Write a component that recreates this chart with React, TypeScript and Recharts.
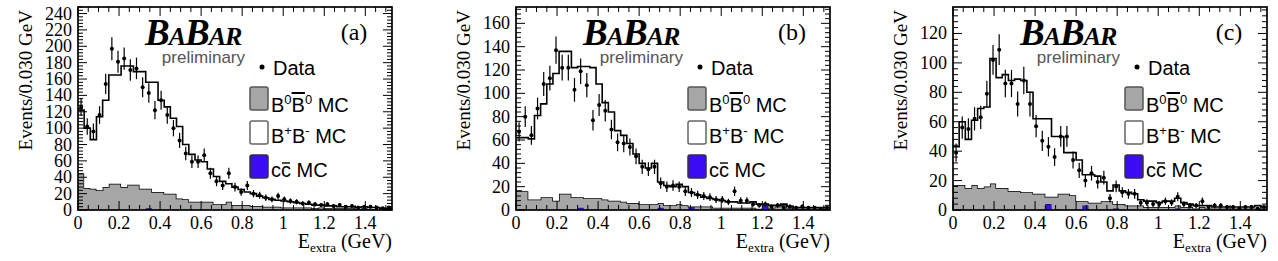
import React from 'react';
import { ComposedChart, Area, Scatter, ErrorBar, XAxis, YAxis } from 'recharts';

// 51 bins of 0.030 GeV from 0 to 1.53 GeV
const BIN_WIDTH = 0.03;
const X_MAX = 1.53;
const X_MAJOR = [0, 0.2, 0.4, 0.6, 0.8, 1, 1.2, 1.4];

// ---- panel (a) ----
const ccMcA = [0, 0, 0, 0, 0, 0, 0, 0, 0, 0, 0, 2, 0, 0, 0, 0, 0, 0, 0, 0, 0, 0, 0, 0, 0, 0, 0, 0, 0, 0, 0, 1, 0, 0, 0, 0, 0, 0, 0, 0, 0, 0, 0, 0, 0, 0, 2, 0, 0, 0, 0];
const b0McA = [45, 27, 26, 24, 28, 32, 32, 28, 31, 31, 26, 24, 22, 22, 20, 20, 14, 13, 10, 10, 10, 10, 7, 7, 10, 6, 6, 6, 5, 5, 4, 3, 4, 3, 3, 3, 3, 3, 2, 3, 2, 2, 2, 2, 2, 1, 0, 1, 1, 1, 1];
const bpMcA = [77, 73, 60, 90, 106, 133, 133, 148, 145, 138, 143, 130, 134, 112, 106, 92, 88, 67, 58, 51, 49, 40, 34, 28, 22, 22, 19, 16, 15, 12, 11, 9, 8, 8, 7, 6, 5, 4, 4, 3, 3, 3, 2, 2, 2, 2, 2, 2, 2, 1, 1];
const dataA = [126, 102, 96, 116, 154, 197, 181, 185, 171, 173, 150, 143, 122, 134, 116, 100, 85, 69, 59, 59, 67, 45, 35, 30, 45, 28, 22, 30, 20, 18, 15, 13, 17, 13, 11, 10, 8, 9, 7, 6, 7, 5, 6, 4, 5, 3, 4, 4, 3, 2, 3];
const yTicksA = [0, 20, 40, 60, 80, 100, 120, 140, 160, 180, 200, 220, 240];

// ---- panel (b) ----
const ccMcB = [0, 0, 0, 0, 0, 0, 0, 0, 0, 0, 2, 0, 0, 0, 0, 0, 0, 0, 0, 0, 0, 0, 0, 2, 0, 0, 0, 0, 3, 0, 0, 0, 0, 0, 0, 0, 0, 0, 0, 0, 4, 0, 0, 0, 0, 0, 0, 0, 0, 0, 0];
const b0McB = [17, 16, 9, 9, 11, 11, 8, 14, 14, 11, 9, 10, 10, 10, 9, 8, 8, 7, 6, 6, 5, 5, 5, 4, 4, 4, 5, 4, 0, 3, 3, 3, 2, 2, 2, 2, 2, 2, 2, 1, 0, 2, 3, 4, 2, 1, 1, 1, 1, 1, 1];
const bpMcB = [45, 46, 52, 72, 80, 97, 109, 122, 122, 111, 112, 113, 112, 98, 83, 76, 60, 57, 51, 42, 35, 31, 35, 18, 17, 16, 17, 16, 12, 10, 8, 7, 7, 6, 5, 5, 4, 4, 5, 4, 1, 2, 1, 1, 1, 1, 1, 1, 1, 1, 1];
const dataB = [67, 80, 64, 87, 108, 113, 137, 122, 122, 103, 119, 107, 77, 90, 85, 69, 58, 57, 54, 46, 37, 35, 37, 23, 20, 21, 20, 16, 15, 13, 12, 11, 9, 9, 7, 16, 8, 8, 5, 4, 5, 3, 4, 2, 3, 2, 3, 2, 2, 1, 2];
const yTicksB = [0, 20, 40, 60, 80, 100, 120, 140, 160];

// ---- panel (c) ----
const ccMcC = [0, 0, 0, 0, 0, 0, 0, 0, 0, 0, 0, 0, 0, 0, 0, 4, 0, 0, 0, 0, 0, 3, 0, 0, 0, 0, 1, 0, 0, 0, 0, 0, 0, 0, 0, 0, 1, 0, 0, 0, 0, 0, 0, 0, 0, 0, 0, 0, 0, 0, 0];
const b0McC = [17, 17, 15, 17, 15, 16, 18, 15, 15, 13, 13, 12, 12, 11, 11, 5, 9, 11, 11, 10, 6, 3, 5, 5, 6, 6, 3, 4, 3, 3, 3, 2, 2, 2, 2, 2, 2, 2, 2, 1, 2, 1, 1, 1, 1, 1, 1, 1, 1, 1, 1];
const bpMcC = [26, 43, 33, 44, 54, 54, 85, 75, 77, 75, 76, 76, 68, 51, 51, 53, 41, 39, 28, 29, 28, 18, 19, 18, 13, 7, 13, 9, 9, 8, 4, 4, 4, 3, 4, 4, 5, 3, 2, 2, 1, 2, 1, 1, 1, 1, 1, 1, 1, 2, 1];
const dataC = [39, 56, 55, 62, 63, 79, 102, 109, 86, 86, 72, 88, 72, 57, 47, 43, 36, 50, 50, 34, 27, 20, 25, 19, 22, 8, 16, 12, 11, 11, 5, 5, 4, 4, 6, 5, 9, 4, 3, 3, 6, 2, 3, 3, 2, 2, 1, 2, 2, 1, 2];
const yTicksC = [0, 20, 40, 60, 80, 100, 120];

const SERIF = '"Liberation Serif", "Times New Roman", serif';
const SANS = '"Liberation Sans", Arial, sans-serif';
const GRAY = '#a6a6a6';
const BLUE = '#3c0cf5';

// layout of one panel
const PLOT_LEFT = 78;
const PLOT_TOP = 7;
const PLOT_W = 314;
const PLOT_H = 203;
const CHART_W = PLOT_LEFT + PLOT_W + 10;
const CHART_H = 261;
const X_AXIS_H = 40;
const TICK_GAP = 6;

const xTicks = Array.from({ length: 31 }, (_, i) => Number((i * 0.05).toFixed(2)));

// major every 20 events, minor every 4
function allYTicks(yMax: number) {
  const out: number[] = [];
  for (let v = 0; v <= yMax; v += 4) out.push(v);
  return out;
}

// bin edges for step drawing; the last edge repeats the final bin so it closes at X_MAX
function histRows(cc: number[], b0: number[], bp: number[]) {
  const rows = cc.map((_, i) => ({ x: Number((i * BIN_WIDTH).toFixed(2)), cc: cc[i], b0: b0[i], bp: bp[i] }));
  rows.push({ ...rows[rows.length - 1], x: X_MAX });
  return rows;
}

// data counts at bin centres with Poisson errors
function pointRows(counts: number[]) {
  return counts.map((n, i) => ({ x: (i + 0.5) * BIN_WIDTH, y: n, err: Math.sqrt(n) }));
}

type TickProps = { x: number; y: number; payload: { value: number } };

function makeYTick(majors: number[]) {
  return function YTick({ x, y, payload }: TickProps) {
    const axisX = x + TICK_GAP;
    const major = majors.includes(payload.value);
    const len = major ? 9 : 5;
    return (
      <g>
        <line x1={axisX} y1={y} x2={axisX + len} y2={y} stroke="#000" strokeWidth={1} />
        <line x1={axisX + PLOT_W} y1={y} x2={axisX + PLOT_W - len} y2={y} stroke="#000" strokeWidth={1} />
        {major && (
          <text x={x} y={y} textAnchor="end" dominantBaseline="central" fontFamily={SERIF} fontSize={18} fill="#000">
            {payload.value}
          </text>
        )}
      </g>
    );
  };
}

function XTick({ x, y, payload }: TickProps) {
  const axisY = y - TICK_GAP;
  const major = X_MAJOR.includes(payload.value);
  const len = major ? 9 : 5;
  return (
    <g>
      <line x1={x} y1={axisY} x2={x} y2={axisY - len} stroke="#000" strokeWidth={1} />
      <line x1={x} y1={axisY - PLOT_H} x2={x} y2={axisY - PLOT_H + len} stroke="#000" strokeWidth={1} />
      {major && (
        <text x={x} y={axisY + 13} textAnchor="middle" dominantBaseline="central" fontFamily={SERIF} fontSize={18} fill="#000">
          {payload.value}
        </text>
      )}
    </g>
  );
}

const DataDot = (props: any) => <circle cx={props.cx} cy={props.cy} r={2} fill="#000" />;

function Overlay({ tag }: { tag: string }) {
  const L = PLOT_LEFT;
  const legendText = { fontFamily: SANS, fontSize: 20, fill: '#000' };
  return (
    <svg width={CHART_W} height={CHART_H} style={{ position: 'absolute', left: 0, top: 0, pointerEvents: 'none' }}>
      <rect x={L} y={PLOT_TOP} width={PLOT_W} height={PLOT_H} fill="none" stroke="#000" strokeWidth={1.7} />
      <text transform="translate(32,10) rotate(-90)" textAnchor="end" fontFamily={SERIF} fontSize={19} fill="#000">
        Events/0.030 GeV
      </text>
      <text x={L + PLOT_W} y={248} textAnchor="end" fontFamily={SERIF} fontSize={20} fill="#000">
        E<tspan fontSize={13} dy={4}>extra</tspan>
        <tspan dy={-4}> (GeV)</tspan>
      </text>

      <text x={L + 67} y={45} fontFamily={SERIF} fontWeight="bold" fontStyle="italic" fontSize={37} letterSpacing={-1} fill="#000">
        B<tspan fontSize={26}>A</tspan>B<tspan fontSize={26}>AR</tspan>
      </text>
      <text x={L + 167} y={63} textAnchor="end" fontFamily={SANS} fontSize={17} fill="#555">
        preliminary
      </text>
      <text x={L + 276} y={40} textAnchor="middle" fontFamily={SERIF} fontSize={24} fill="#000">
        ({tag})
      </text>

      <circle cx={L + 184} cy={67} r={2.5} fill="#000" />
      <text x={L + 195} y={75} {...legendText}>Data</text>

      <rect x={L + 172} y={87} width={18} height={23} rx={2} fill={GRAY} stroke="#555" strokeWidth={1.5} />
      <text x={L + 193} y={112} {...legendText}>
        B<tspan dy={-8} fontSize={13}>0</tspan>
        <tspan dy={8} textDecoration="overline">B</tspan>
        <tspan dy={-8} fontSize={13}>0</tspan>
        <tspan dy={8}> MC</tspan>
      </text>

      <rect x={L + 172} y={121} width={18} height={23} rx={2} fill="#fff" stroke="#666" strokeWidth={1.5} />
      <text x={L + 193} y={143} {...legendText}>
        B<tspan dy={-8} fontSize={13}>+</tspan>
        <tspan dy={8}>B</tspan>
        <tspan dy={-8} fontSize={13}>-</tspan>
        <tspan dy={8}> MC</tspan>
      </text>

      <rect x={L + 172} y={155} width={18} height={23} rx={2} fill={BLUE} stroke="#333" strokeWidth={1.5} />
      <text x={L + 193} y={177} {...legendText}>cc MC</text>
      {/* bar over the second c */}
      <line x1={L + 204} y1={163} x2={L + 212} y2={163} stroke="#000" strokeWidth={1.4} />
    </svg>
  );
}

type PanelProps = {
  left: number;
  tag: string;
  cc: number[];
  b0: number[];
  bp: number[];
  data: number[];
  yTicks: number[];
  yMax: number;
};

function Panel({ left, tag, cc, b0, bp, data, yTicks, yMax }: PanelProps) {
  const rows = histRows(cc, b0, bp);
  const points = pointRows(data);
  return (
    <div style={{ position: 'absolute', left, top: 0, width: CHART_W, height: CHART_H }}>
      <ComposedChart
        width={CHART_W}
        height={CHART_H}
        data={rows}
        margin={{ top: PLOT_TOP, right: CHART_W - PLOT_LEFT - PLOT_W, bottom: CHART_H - PLOT_TOP - PLOT_H - X_AXIS_H, left: 0 }}
      >
        <XAxis
          dataKey="x"
          type="number"
          domain={[0, X_MAX]}
          allowDataOverflow
          ticks={xTicks}
          interval={0}
          height={X_AXIS_H}
          axisLine={false}
          tickLine={false}
          tickSize={0}
          tickMargin={TICK_GAP}
          tick={XTick}
        />
        <YAxis
          type="number"
          domain={[0, yMax]}
          allowDataOverflow
          ticks={allYTicks(yMax)}
          interval={0}
          width={PLOT_LEFT}
          axisLine={false}
          tickLine={false}
          tickSize={0}
          tickMargin={TICK_GAP}
          tick={makeYTick(yTicks)}
        />
        <Area type="stepAfter" dataKey="cc" stackId="mc" fill={BLUE} fillOpacity={1} stroke="#1a0570" strokeWidth={1} isAnimationActive={false} />
        <Area type="stepAfter" dataKey="b0" stackId="mc" fill={GRAY} fillOpacity={1} stroke="#000" strokeWidth={1.5} isAnimationActive={false} />
        <Area type="stepAfter" dataKey="bp" stackId="mc" fill="#fff" fillOpacity={1} stroke="#000" strokeWidth={1.6} isAnimationActive={false} />
        <Scatter data={points} dataKey="y" fill="#000" shape={DataDot} isAnimationActive={false}>
          <ErrorBar dataKey="err" direction="y" width={0} stroke="#000" strokeWidth={1.2} />
        </Scatter>
      </ComposedChart>
      <Overlay tag={tag} />
    </div>
  );
}

export default function App() {
  return (
    <div style={{ position: 'absolute', left: 0, top: 0, width: 1278, height: 261, background: '#fff' }}>
      <Panel left={0} tag="a" cc={ccMcA} b0={b0McA} bp={bpMcA} data={dataA} yTicks={yTicksA} yMax={248} />
      <Panel left={438} tag="b" cc={ccMcB} b0={b0McB} bp={bpMcB} data={dataB} yTicks={yTicksB} yMax={174} />
      <Panel left={875} tag="c" cc={ccMcC} b0={b0McC} bp={bpMcC} data={dataC} yTicks={yTicksC} yMax={138} />
    </div>
  );
}
